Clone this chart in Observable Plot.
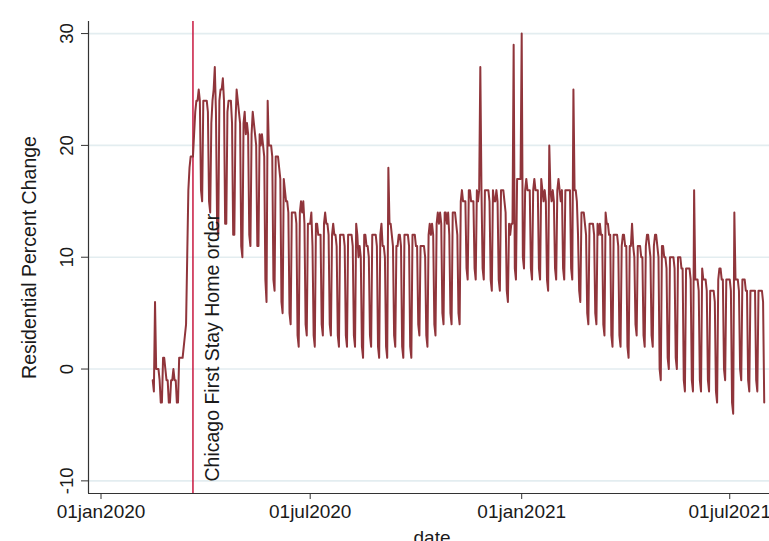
<!DOCTYPE html>
<html><head><meta charset="utf-8">
<script src="https://cdn.jsdelivr.net/npm/d3@7"></script>
<script src="https://cdn.jsdelivr.net/npm/@observablehq/plot@0.6"></script>
<style>
html,body{margin:0;padding:0;background:#fff;}
#chart svg{display:block;overflow:hidden;
  background: linear-gradient(#fff,#fff) 0 0/100% 10px no-repeat, linear-gradient(#fff,#fff) 0 0/13px 100% no-repeat, #eaf2f3;}
</style></head><body><div id="chart"></div>
<script>
// Daily Google residential mobility change (Chicago), first day = Saturday 2020-02-15
const startDate = "2020-02-15";
// one row per week: Sat, Sun, Mon, Tue, Wed, Thu, Fri
const residential = [
  -1,-2,6,0,0,0,-1,
  -3,-3,1,1,0,-1,-1,
  -3,-3,-1,-1,0,-1,-1,
  -3,-3,1,1,1,1,2,
  3,4,10,16,18,19,19,
  19,21,23,24,24,25,24,
  16,15,24,24,24,24,23,
  15,14,22,24,25,27,23,
  13,12,24,25,25,26,24,
  13,13,23,24,24,24,22,
  12,12,22,25,24,23,22,
  11,10,22,23,21,22,21,
  12,11,21,23,22,21,20,
  11,11,21,20,21,20,19,
  8,6,24,20,20,20,19,
  8,7,19,19,19,18,17,
  6,5,17,16,15,15,14,
  5,4,14,14,14,14,13,
  3,2,14,15,14,15,13,
  4,3,13,13,13,14,11,
  3,2,13,13,12,12,12,
  4,3,13,14,13,13,12,
  4,3,12,13,12,12,11,
  3,2,12,12,12,12,11,
  3,2,12,12,12,12,11,
  3,2,13,12,10,11,10,
  2,1,12,12,11,11,10,
  3,2,12,12,12,12,11,
  2,1,12,13,11,11,10,
  2,1,18,13,13,12,11,
  3,2,11,11,12,12,11,
  2,1,12,12,12,12,11,
  2,1,12,12,12,11,11,
  4,3,11,11,11,11,10,
  3,2,12,13,12,13,12,
  4,3,13,14,13,14,13,
  5,4,14,14,13,14,12,
  5,4,14,14,14,13,12,
  5,4,15,16,15,15,15,
  9,8,16,16,15,15,15,
  9,8,16,15,16,27,16,
  9,8,16,16,16,16,15,
  8,7,16,15,15,16,15,
  8,7,16,16,16,15,14,
  7,6,13,12,13,13,29,
  9,8,17,17,17,17,30,
  10,9,16,17,16,16,16,
  9,8,16,17,16,16,16,
  9,8,17,16,15,16,15,
  8,7,20,16,15,16,15,
  9,8,16,17,16,15,16,
  9,8,16,16,16,16,16,
  9,8,25,16,16,15,12,
  7,6,14,14,14,13,12,
  5,4,13,13,13,13,12,
  5,4,13,12,13,12,12,
  4,3,14,13,13,12,12,
  3,2,12,12,12,12,11,
  3,2,11,12,12,11,11,
  2,1,11,11,13,11,10,
  4,3,11,11,11,10,10,
  3,2,11,12,12,11,10,
  3,2,11,12,12,11,10,
  0,-1,11,11,10,10,9,
  1,0,10,10,10,10,9,
  1,0,10,10,10,9,9,
  -1,-2,9,9,9,9,8,
  -1,-2,16,8,8,8,7,
  -1,-2,9,8,8,8,7,
  -1,-2,7,7,7,7,6,
  -2,-3,8,9,9,8,8,
  0,-1,8,8,8,8,7,
  -3,-4,14,8,8,8,7,
  0,-1,8,8,8,7,7,
  -1,-2,7,7,7,7,7,
  -1,-2,7,7,7,7,6,
  -3
];
const stayHomeDate = "2020-03-21";
const stayHomeLabel = "Chicago First Stay Home order";
const xTicks = ["2020-01-01", "2020-07-01", "2021-01-01", "2021-07-01"];
const xTickLabels = ["01jan2020", "01jul2020", "01jan2021", "01jul2021"];
const yTicks = [-10, 0, 10, 20, 30];
const yTitle = "Residential Percent Change";
const xTitle = "date";
const xDomain = ["2019-12-21T03:00Z", "2021-08-04T14:00Z"];
const yDomain = [-11.13, 31.08];

const DAY = 864e5;
const t0 = Date.parse(startDate);
const data = residential.map((v, i) => ({date: new Date(t0 + i * DAY), value: v}));
const labelOf = new Map(xTicks.map((d, i) => [Date.parse(d), xTickLabels[i]]));

const ink = "#1a1a1a";
const chart = Plot.plot({
  width: 769, height: 541,
  marginLeft: 88, marginRight: 0, marginTop: 21, marginBottom: 48,
  style: {fontFamily: "'Liberation Sans', Arial, Helvetica, sans-serif", fontSize: "19px", color: ink, background: "transparent"},
  x: {type: "utc", domain: xDomain.map(d => new Date(d))},
  y: {domain: yDomain},
  marks: [
    Plot.frame({fill: "white", stroke: "none"}),
    Plot.gridY(yTicks, {stroke: "#e3edf0", strokeOpacity: 1, strokeWidth: 1.6}),
    Plot.ruleX([stayHomeDate], {x: d => new Date(d), stroke: "#c8173f", strokeWidth: 1.5}),
    Plot.line(data, {x: "date", y: "value", stroke: "#90353b", strokeWidth: 2, strokeLinejoin: "round"}),
    Plot.text([stayHomeLabel], {x: () => new Date(stayHomeDate), text: d => d, frameAnchor: "bottom",
      rotate: -90, textAnchor: "start", lineAnchor: "top", dx: 12, dy: -12, fontSize: 19.5, fill: ink}),
    Plot.ruleX([xDomain[0]], {x: d => new Date(d), stroke: "#333", strokeWidth: 1.2}),
    Plot.ruleY([yDomain[0]], {stroke: "#333", strokeWidth: 1.2}),
    Plot.axisX({ticks: xTicks.map(d => new Date(d)), tickSize: 6, tickPadding: 5,
      tickFormat: d => labelOf.get(+d), label: null, stroke: "#333", fontSize: 19}),
    Plot.axisY({ticks: yTicks, tickSize: 7, tickFormat: () => "", label: null, stroke: "#333"}),
    Plot.text(yTicks, {y: d => d, text: d => String(d), frameAnchor: "left", rotate: -90,
      textAnchor: "middle", lineAnchor: "bottom", dx: -16, fontSize: 18.5, fill: ink}),
    Plot.text([yTitle], {text: d => d, frameAnchor: "left", rotate: -90, textAnchor: "middle",
      lineAnchor: "top", dx: -66, fontSize: 19.5, fill: ink}),
    Plot.text([xTitle], {text: d => d, frameAnchor: "bottom", lineAnchor: "top", dx: 3, dy: 37, fontSize: 19, fill: ink})
  ]
});
document.getElementById("chart").appendChild(chart);
</script>
</body></html>
